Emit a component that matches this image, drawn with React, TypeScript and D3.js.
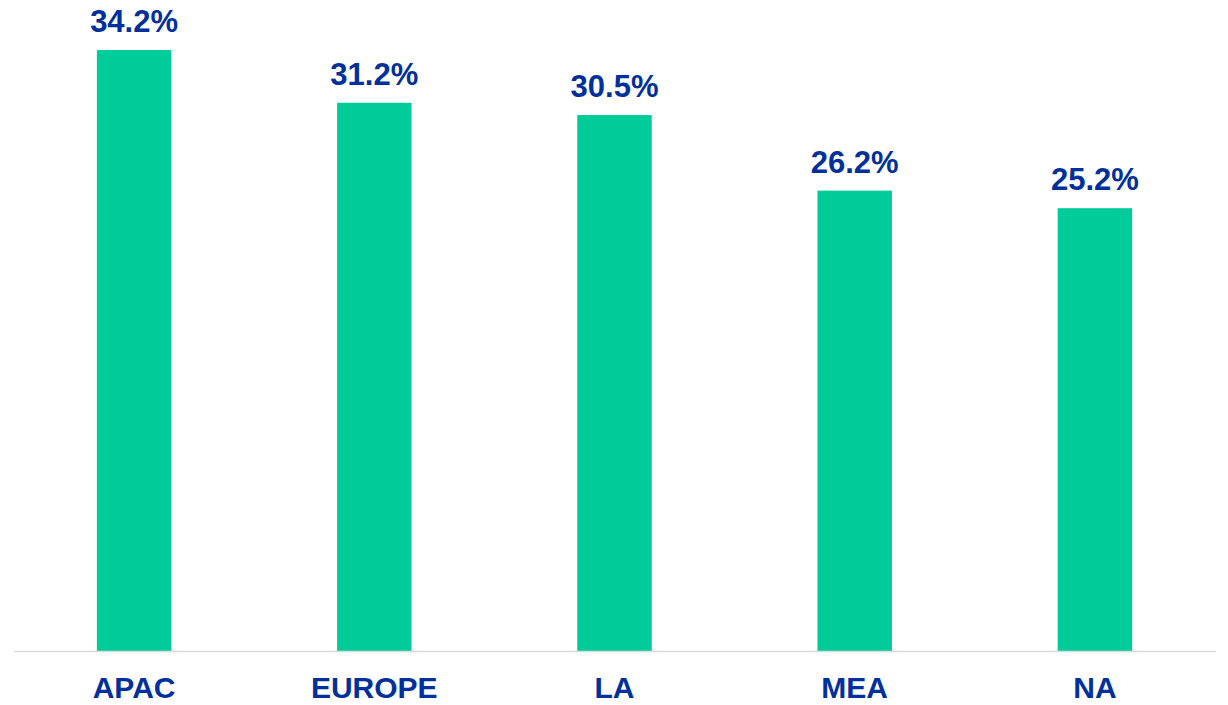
import React from "react";
import * as d3 from "d3";

const categories = ["APAC", "EUROPE", "LA", "MEA", "NA"];
const values = [34.2, 31.2, 30.5, 26.2, 25.2];

const W = 1228;
const H = 705;

export default function App() {
  const x = d3.scaleBand<string>().domain(categories).range([14, 1215]).paddingInner(0.69).paddingOuter(0.345);
  const y = d3.scaleLinear().domain([0, 35]).range([651, 36]);
  const font = "'Liberation Sans', Arial, sans-serif";
  const blue = "#00309c";
  return (
    <svg width={W} height={H} style={{ position: "absolute", left: 0, top: 0 }}>
      <rect width={W} height={H} fill="#fff" />
      {categories.map((c, i) => {
        const bx = x(c)!;
        const cx = bx + x.bandwidth() / 2;
        return (
          <g key={c}>
            <rect x={bx} y={y(values[i])} width={x.bandwidth()} height={y(0) - y(values[i])} fill="#00cc99" />
            <text x={cx} y={y(values[i]) - 18} textAnchor="middle" fontFamily={font} fontWeight="bold" fontSize={31} fill={blue}>
              {values[i].toFixed(1)}%
            </text>
            <text x={cx} y={698} textAnchor="middle" fontFamily={font} fontWeight="bold" fontSize={30} fill={blue}>
              {c}
            </text>
          </g>
        );
      })}
      <line x1={14} x2={1216} y1={651.5} y2={651.5} stroke="#d9d9d9" strokeWidth={1.5} />
    </svg>
  );
}
